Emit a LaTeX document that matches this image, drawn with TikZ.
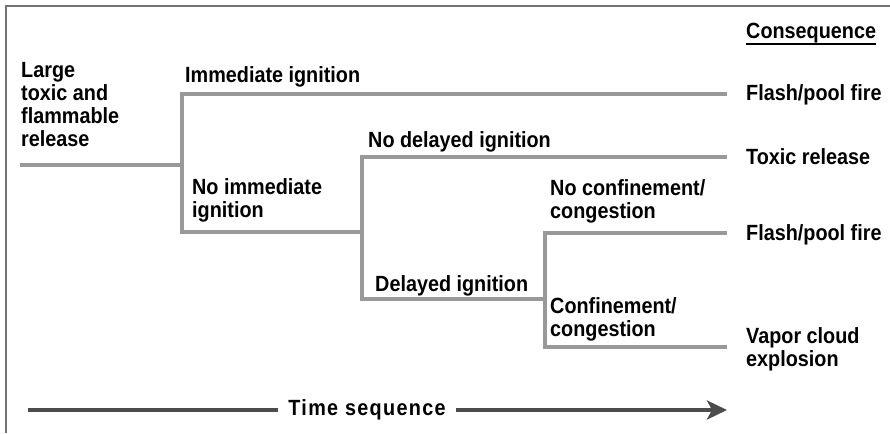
\documentclass[tikz,border=0pt]{standalone}
\usepackage{fontspec}
\setmainfont[FakeStretch=0.9]{Liberation Sans}
\usetikzlibrary{arrows.meta}
\definecolor{branchgray}{gray}{0.6}
\definecolor{arrowgray}{gray}{0.3}
\definecolor{outlinegray}{gray}{0.45}
\begin{document}
\begin{tikzpicture}
  [
    x=1pt,y=-1pt,
    txt/.style={inner sep=0pt,font=\bfseries\fontsize{22}{23}\selectfont},
    cons/.style={txt,anchor=base west},
    branch/.style={draw=branchgray,line width=4.5pt},
    timeline/.style={draw=arrowgray,line width=4pt},
    outline/.style={draw=outlinegray,line width=2pt},
  ]
  \useasboundingbox (0,0) rectangle (890,433);
  \draw [outline] (6,433) -- (6,6) -- (890,6);

  \coordinate (start) at (20,165);
  \coordinate (j1) at (182,165);
  \coordinate (j2) at (362,232);
  \coordinate (j3) at (545,299);
  \coordinate (e1) at (727,94);
  \coordinate (e2) at (727,157);
  \coordinate (e3) at (727,233);
  \coordinate (e4) at (727,347);

  \draw [branch] (start) -- (j1);
  \draw [branch] (e1) -| (j1) |- (j2);
  \draw [branch] (e2) -| (j2) |- (j3);
  \draw [branch] (e3) -| (j3) |- (e4);

  \node (release) at (21,62) [txt,anchor=north west,align=left] {Large\\toxic and\\flammable\\release};
  \node (immediate) at (185,83) [txt,anchor=base west] {Immediate ignition};
  \node (noimmediate) at (192,222) [txt,anchor=south west,align=left] {No immediate\\ignition};
  \node (nodelayed) at (368,147) [txt,anchor=base west] {No delayed ignition};
  \node (delayed) at (375,291) [txt,anchor=base west] {Delayed ignition};
  \node (noconf) at (550,223) [txt,anchor=south west,align=left] {No confinement/\\congestion};
  \node (conf) at (550,341) [txt,anchor=south west,align=left] {Confinement/\\congestion};

  \node (head) at (746,39) [cons] {Consequence};
  \draw [line width=1.5pt] (head.south west) -- (head.south east);
  \node (fire1) at (746,101) [cons] {Flash/pool fire};
  \node (toxic) at (746,164) [cons] {Toxic release};
  \node (fire2) at (746,240) [cons] {Flash/pool fire};
  \node (vce) at (746,349) [txt,anchor=west,align=left] {Vapor cloud\\explosion};

  \coordinate (t0) at (28,410);
  \coordinate (t1) at (727,410);
  \node (time) at (367,410) [txt,inner xsep=10pt] {\addfontfeature{LetterSpace=6}Time sequence};
  \draw [timeline] (t0) -- (time);
  \draw [timeline,-{Stealth[length=20pt,width=19pt,inset=5pt]}] (time) -- (t1);
\end{tikzpicture}
\end{document}
